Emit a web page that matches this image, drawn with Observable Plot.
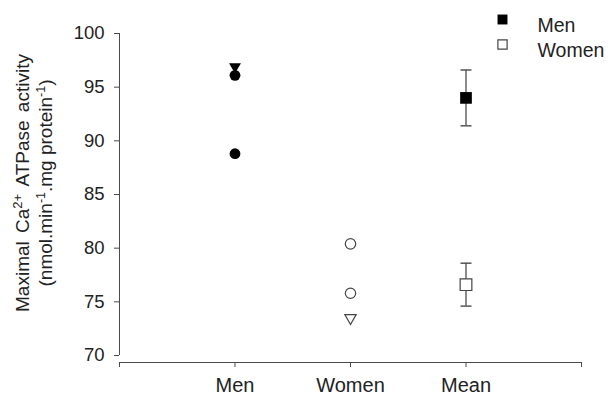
<!DOCTYPE html>
<html>
<head>
<meta charset="utf-8">
<script src="https://cdn.jsdelivr.net/npm/d3@7"></script>
<script src="https://cdn.jsdelivr.net/npm/@observablehq/plot@0.6"></script>
<style>
  html, body { margin: 0; padding: 0; background: #fff; }
  #chart svg { display: block; }
</style>
</head>
<body>
<div id="chart"></div>
<script>
// ---- data ----
const categories = ["Men", "Women", "Mean"];
const yTicks = [70, 75, 80, 85, 90, 95, 100];
const menCircles = [96.1, 88.8];
const menTriangles = [96.9];
const womenCircles = [80.4, 75.8];
const womenTriangles = [73.5];
const meanGroups = ["Men", "Women"];
const meanValues = [94.0, 76.6];
const meanErrors = [2.6, 2.0];
const legendLabels = ["Men", "Women"];

const pos = name => categories.indexOf(name) + 1;
const pts = (group, values) => values.map(v => ({x: pos(group), y: v}));
const means = meanGroups.map((g, i) => ({
  x: pos("Mean"), y: meanValues[i], lo: meanValues[i] - meanErrors[i], hi: meanValues[i] + meanErrors[i], g
}));

const hline = {
  draw(ctx, size) {
    const w = Math.sqrt(size) / 2;
    ctx.moveTo(-w, 0);
    ctx.lineTo(w, 0);
  }
};

const axisColor = "#4a4a4a";
const font = "Liberation Sans, Arial, sans-serif";

const plot = Plot.plot({
  width: 614,
  height: 400,
  marginLeft: 119,
  marginRight: 33,
  marginTop: 20,
  marginBottom: 38,
  style: {fontFamily: font, color: "#222", background: "#fff"},
  x: {domain: [0, 4], axis: null},
  y: {domain: [70, 100], range: [355, 33], axis: null},
  marks: [
    Plot.axisY({ticks: yTicks, tickSize: 5, tickPadding: 10, fontSize: 18.5, stroke: axisColor, fill: "#222", label: null}),
    Plot.ruleX([0], {y1: 70, y2: 100, stroke: axisColor, strokeWidth: 1}),
    Plot.axisX({ticks: [0, 1, 2, 3, 4], tickFormat: d => categories[d - 1] ?? "", tickSize: 5, tickPadding: 10, fontSize: 20, stroke: axisColor, fill: "#222", label: null}),
    Plot.frame({anchor: "bottom", stroke: axisColor, strokeWidth: 1}),
    // individual points
    Plot.dot(pts("Men", menTriangles), {x: "x", y: "y", symbol: "triangle", rotate: 180, r: 4.4, fill: "#000", stroke: "none"}),
    Plot.dot(pts("Men", menCircles), {x: "x", y: "y", symbol: "circle", r: 5.4, fill: "#000", stroke: "none"}),
    Plot.dot(pts("Women", womenCircles), {x: "x", y: "y", symbol: "circle", r: 5.2, fill: "#fff", stroke: "#444", strokeWidth: 1.2}),
    Plot.dot(pts("Women", womenTriangles), {x: "x", y: "y", symbol: "triangle", rotate: 180, r: 4.2, fill: "#fff", stroke: "#444", strokeWidth: 1.2}),
    // error bars
    Plot.ruleX(means, {x: "x", y1: "lo", y2: "hi", stroke: "#666", strokeWidth: 1.5}),
    Plot.dot(means, {x: "x", y: "lo", symbol: hline, r: 6.2, stroke: "#555", strokeWidth: 1.5}),
    Plot.dot(means, {x: "x", y: "hi", symbol: hline, r: 6.2, stroke: "#555", strokeWidth: 1.5}),
    Plot.dot(means, {x: "x", y: "y", symbol: "square", r: 6.6, fill: d => d.g === "Men" ? "#000" : "#fff", stroke: d => d.g === "Men" ? "none" : "#444", strokeWidth: 1.2}),
    // legend
    Plot.dot([legendLabels[0]], {frameAnchor: "top-right", dx: -79, dy: -1, symbol: "square", r: 5.6, fill: "#000", stroke: "none"}),
    Plot.dot([legendLabels[1]], {frameAnchor: "top-right", dx: -79, dy: 24, symbol: "square", r: 5.2, fill: "#fff", stroke: "#444", strokeWidth: 1.2}),
    Plot.text([legendLabels[0]], {frameAnchor: "top-right", text: d => d, dx: -44, dy: -2, textAnchor: "start", fontSize: 19.5, fill: "#222"}),
    Plot.text([legendLabels[1]], {frameAnchor: "top-right", text: d => d, dx: -44, dy: 23, textAnchor: "start", fontSize: 19.5, fill: "#222"})
  ]
});

// y-axis title with superscripts
const svg = d3.select(plot);
const titleG = svg.append("g").attr("font-family", font).attr("fill", "#222").attr("font-size", 19).attr("text-anchor", "middle");
const t1 = titleG.append("text").attr("transform", "translate(29,183) rotate(-90)")
  .attr("word-spacing", 3);
t1.append("tspan").text("Maximal Ca");
t1.append("tspan").attr("font-size", 13).attr("dy", -7).text("2+");
t1.append("tspan").attr("dy", 7).text(" ATPase activity");
const t2 = titleG.append("text").attr("transform", "translate(52,183) rotate(-90)");
t2.append("tspan").text("(nmol.min");
t2.append("tspan").attr("font-size", 12.5).attr("dy", -7).text("-1");
t2.append("tspan").attr("dy", 7).text(".mg protein");
t2.append("tspan").attr("font-size", 12.5).attr("dy", -7).text("-1");
t2.append("tspan").attr("dy", 7).text(")");

document.getElementById("chart").appendChild(plot);
</script>
</body>
</html>
